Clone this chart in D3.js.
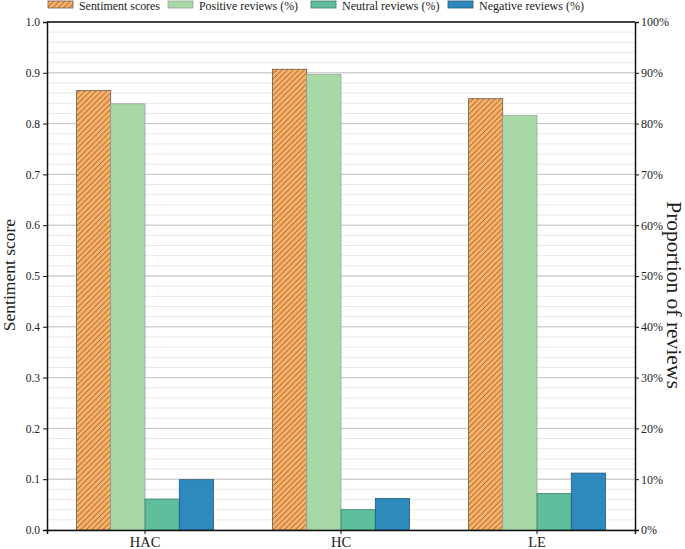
<!DOCTYPE html>
<html><head><meta charset="utf-8">
<script src="https://cdn.jsdelivr.net/npm/d3@7"></script>
<style>body{margin:0;background:#fff}svg{display:block}svg text{font-family:"Liberation Serif","Times New Roman",Times,serif !important;fill:#222}</style>
</head><body><svg id="c" width="685" height="549"></svg>
<script>
const categories = ["HAC", "HC", "LE"];
const sentimentScores = [0.865, 0.907, 0.849];
const positivePct = [83.9, 89.7, 81.6];
const neutralPct = [6.1, 4.0, 7.2];
const negativePct = [9.9, 6.2, 11.2];
const leftTicks = [0, 0.1, 0.2, 0.3, 0.4, 0.5, 0.6, 0.7, 0.8, 0.9, 1.0];
const rightTicks = [0, 10, 20, 30, 40, 50, 60, 70, 80, 90, 100];
const seriesNames = ["Sentiment scores", "Positive reviews (%)", "Neutral reviews (%)", "Negative reviews (%)"];

const FONT = "'Liberation Serif', 'Times New Roman', Times, serif";
const svg = d3.select("#c");
const M = {l: 47, r: 635, t: 22, b: 530};
const defs = svg.append("defs");
const pat = defs.append("pattern").attr("id","hatch").attr("patternUnits","userSpaceOnUse")
  .attr("width",5.5).attr("height",5.5);
pat.append("rect").attr("width",5.5).attr("height",5.5).attr("fill","#fdb063");
pat.append("path").attr("d","M-1,1 l2,-2 M0,5.5 l5.5,-5.5 M4.5,6.5 l2,-2").attr("stroke","#5a4a3a").attr("stroke-width",0.75);

const colors = ["url(#hatch)", "#a8d8a5", "#5fbf9d", "#2e89bd"];
const strokes = ["#6a5a4a", "#9aa89a", "#3f7f6a", "#24587a"];

const x = d3.scaleBand().domain(categories).range([M.l, M.r]).padding(0);
const xs = d3.scaleBand().domain(d3.range(4)).range([0, x.bandwidth()*0.7]);
const yL = d3.scaleLinear().domain([0,1]).range([M.b, M.t]);
const yR = d3.scaleLinear().domain([0,100]).range([M.b, M.t]);

// grid
const minor = d3.range(0, 1.0001, 0.02);
svg.append("g").selectAll("line").data(minor).join("line")
  .attr("x1",M.l).attr("x2",M.r).attr("y1",d=>yL(d)).attr("y2",d=>yL(d))
  .attr("stroke","#e8e8e8").attr("stroke-width",1);
svg.append("g").selectAll("line").data(leftTicks).join("line")
  .attr("x1",M.l).attr("x2",M.r).attr("y1",d=>yL(d)).attr("y2",d=>yL(d))
  .attr("stroke","#c4c4c4").attr("stroke-width",1);

// bars
const series = [
  sentimentScores.map(v=>yL(v)),
  positivePct.map(v=>yR(v)),
  neutralPct.map(v=>yR(v)),
  negativePct.map(v=>yR(v))
];
series.forEach((ys, si) => {
  svg.append("g").selectAll("rect").data(categories).join("rect")
    .attr("x", (c)=> x(c) + x.bandwidth()*0.15 + xs(si))
    .attr("width", xs.bandwidth())
    .attr("y", (c,i)=> ys[i])
    .attr("height", (c,i)=> M.b - ys[i])
    .attr("fill", colors[si])
    .attr("stroke", strokes[si]).attr("stroke-width", 0.8);
});

// axes
const gl = svg.append("g").attr("transform",`translate(${M.l},0)`)
  .call(d3.axisLeft(yL).tickValues(leftTicks).tickFormat(d3.format(".1f")).tickSizeOuter(0).tickSize(4));
const gr = svg.append("g").attr("transform",`translate(${M.r},0)`)
  .call(d3.axisRight(yR).tickValues(rightTicks).tickFormat(d=>d+"%").tickSizeOuter(0).tickSize(4));
const gb = svg.append("g").attr("transform",`translate(0,${M.b})`)
  .call(d3.axisBottom(x).tickSizeOuter(0).tickSize(4));
[gl,gr,gb].forEach(g=>{
  g.attr("font-family", FONT);
  g.select(".domain").attr("stroke","#111").attr("stroke-width",1.5);
  g.selectAll(".tick line").attr("stroke","#111").attr("stroke-width",1);
  g.selectAll("text").attr("fill","#222");
});
gl.selectAll("text").attr("font-size",11.5).attr("x",-7);
gr.selectAll("text").attr("font-size",12).attr("x",6);
gb.selectAll("text").attr("font-size",14.5).attr("y",17).attr("dy",null).attr("dominant-baseline","auto");
// top spine
svg.append("line").attr("x1",M.l).attr("x2",M.r).attr("y1",M.t).attr("y2",M.t).attr("stroke","#111").attr("stroke-width",1.5);

// axis titles
svg.append("text").attr("transform",`translate(11,275) rotate(-90)`)
  .attr("font-family",FONT)
  .attr("text-anchor","middle").attr("dominant-baseline","middle").attr("font-size",17.5).text("Sentiment score");
svg.append("text").attr("transform",`translate(672,295) rotate(90)`)
  .attr("font-family",FONT)
  .attr("text-anchor","middle").attr("dominant-baseline","middle").attr("font-size",21.5).text("Proportion of reviews");

// legend
const legX = [48, 168, 311, 448];
const legW = [81, 99, 97.5, 105];
const leg = svg.append("g").attr("font-family",FONT);
seriesNames.forEach((n,i)=>{
  leg.append("rect").attr("x",legX[i]).attr("y",1).attr("width",25).attr("height",7)
    .attr("fill",colors[i]).attr("stroke",strokes[i]).attr("stroke-width",0.8);
  leg.append("text").attr("x",legX[i]+31).attr("y",9.5)
    .attr("font-size",12.5).attr("textLength",legW[i]).attr("lengthAdjust","spacingAndGlyphs").text(n);
});
</script></body></html>
